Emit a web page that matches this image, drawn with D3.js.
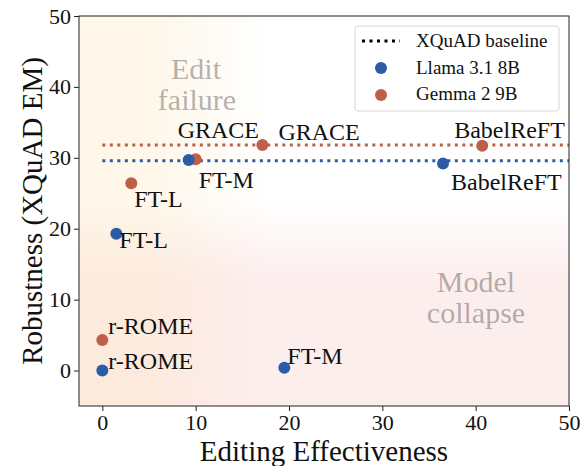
<!DOCTYPE html>
<html lang="en">
<head>
<meta charset="utf-8">
<title>Robustness vs Editing Effectiveness</title>
<script src="https://d3js.org/d3.v7.min.js"></script>
<style>
  body { margin: 0; background: #fff; }
  svg text { font-family: "Liberation Serif", "DejaVu Serif", serif; fill: #111; }
  .tick text { font-size: 22px; }
  .axis-title { font-size: 29px; }
  .point-label { font-size: 24px; }
  .legend-text { font-size: 19px; }
  .region { font-size: 30px; fill: #555; fill-opacity: 0.45; }
</style>
</head>
<body>
<div id="vis"></div>
<script>
// data
const methods = ["r-ROME", "FT-L", "FT-M", "GRACE", "BabelReFT"];
const llamaEff = [0, 1.5, 19.5, 9.25, 36.5];
const llamaRob = [0, 19.3, 0.4, 29.7, 29.2];
const gemmaEff = [0, 3.1, 10.0, 17.15, 40.7];
const gemmaRob = [4.3, 26.4, 29.8, 31.8, 31.7];
const llamaBaseline = 29.6;
const gemmaBaseline = 31.8;
const xTicks = [0, 10, 20, 30, 40, 50];
const yTicks = [0, 10, 20, 30, 40, 50];
const legendLabels = ["XQuAD baseline", "Llama 3.1 8B", "Gemma 2 9B"];

// label placement (pixels, relative to the point)
const llamaLabelOffsets = [[6, -2], [3, 14], [3, -4], [-11, -22], [8, 27]];
const gemmaLabelOffsets = [[6, -6], [3, 24], [3, 29], [16, -5], [-28, -8]];

const blue = "#2c5ca6";
const red = "#bd5f49";

const width = 587, height = 466;
const mLeft = 79, mRight = 569, mTop = 16, mBottom = 406;

const x = d3.scaleLinear().domain([-2.5, 50]).range([mLeft, mRight]);
const y = d3.scaleLinear().domain([-5, 50]).range([mBottom, mTop]);

const svg = d3.select("#vis").append("svg")
    .attr("width", width)
    .attr("height", height);

const defs = svg.append("defs");

// pink wash rising from the bottom ("model collapse")
const gv = defs.append("linearGradient").attr("id", "gv")
    .attr("gradientUnits", "userSpaceOnUse")
    .attr("x1", 0).attr("x2", 0)
    .attr("y1", y(-5)).attr("y2", y(50));
gv.append("stop").attr("offset", (13 + 5) / 55).attr("stop-color", "#fdeeee").attr("stop-opacity", 1);
gv.append("stop").attr("offset", (24 + 5) / 55).attr("stop-color", "#fdeeee").attr("stop-opacity", 0);

// cream wash from the left ("edit failure")
const gh = defs.append("linearGradient").attr("id", "gh")
    .attr("gradientUnits", "userSpaceOnUse")
    .attr("y1", 0).attr("y2", 0)
    .attr("x1", x(-2.5)).attr("x2", x(50));
gh.append("stop").attr("offset", (5 + 2.5) / 52.5).attr("stop-color", "rgb(251,222,167)").attr("stop-opacity", 0.24);
gh.append("stop").attr("offset", (18 + 2.5) / 52.5).attr("stop-color", "rgb(251,222,167)").attr("stop-opacity", 0);

svg.append("rect")
    .attr("x", mLeft).attr("y", mTop)
    .attr("width", mRight - mLeft).attr("height", mBottom - mTop)
    .attr("fill", "url(#gv)");
svg.append("rect")
    .attr("x", mLeft).attr("y", mTop)
    .attr("width", mRight - mLeft).attr("height", mBottom - mTop)
    .attr("fill", "url(#gh)");

// region notes
svg.append("text").attr("class", "region").attr("text-anchor", "middle")
    .attr("x", 196).attr("y", 79).text("Edit");
svg.append("text").attr("class", "region").attr("text-anchor", "middle")
    .attr("x", 197).attr("y", 110).text("failure");
svg.append("text").attr("class", "region").attr("text-anchor", "middle")
    .attr("x", 476).attr("y", 292).text("Model");
svg.append("text").attr("class", "region").attr("text-anchor", "middle")
    .attr("x", 476).attr("y", 323).text("collapse");

// baselines
svg.append("line")
    .attr("x1", x(0)).attr("x2", x(50))
    .attr("y1", y(gemmaBaseline)).attr("y2", y(gemmaBaseline))
    .attr("stroke", red).attr("stroke-width", 3)
    .attr("stroke-dasharray", "3,4.5");
svg.append("line")
    .attr("x1", x(0)).attr("x2", x(50))
    .attr("y1", y(llamaBaseline)).attr("y2", y(llamaBaseline))
    .attr("stroke", blue).attr("stroke-width", 3)
    .attr("stroke-dasharray", "3,4.5");

// points
const gemma = methods.map((m, i) => ({ m, ex: gemmaEff[i], rb: gemmaRob[i], off: gemmaLabelOffsets[i] }));
const llama = methods.map((m, i) => ({ m, ex: llamaEff[i], rb: llamaRob[i], off: llamaLabelOffsets[i] }));

svg.selectAll(".gemma").data(gemma).enter().append("circle")
    .attr("class", "gemma")
    .attr("cx", d => x(d.ex)).attr("cy", d => y(d.rb))
    .attr("r", 6).attr("fill", red);
svg.selectAll(".llama").data(llama).enter().append("circle")
    .attr("class", "llama")
    .attr("cx", d => x(d.ex)).attr("cy", d => y(d.rb))
    .attr("r", 6).attr("fill", blue);

svg.selectAll(".lab").data(gemma.concat(llama)).enter().append("text")
    .attr("class", "point-label")
    .attr("x", d => x(d.ex) + d.off[0])
    .attr("y", d => y(d.rb) + d.off[1])
    .text(d => d.m);

// axes
const xAxis = svg.append("g")
    .attr("transform", "translate(0," + mBottom + ")")
    .call(d3.axisBottom(x).tickValues(xTicks).tickSize(5));
xAxis.select(".domain").remove();
xAxis.selectAll(".tick text").attr("y", 24).attr("dy", 0);

const yAxis = svg.append("g")
    .attr("transform", "translate(" + mLeft + ",0)")
    .call(d3.axisLeft(y).tickValues(yTicks).tickSize(5));
yAxis.select(".domain").remove();
yAxis.selectAll(".tick text").attr("x", -8);

svg.selectAll(".tick line").attr("stroke", "#222");

svg.append("rect")
    .attr("x", mLeft).attr("y", mTop)
    .attr("width", mRight - mLeft).attr("height", mBottom - mTop)
    .attr("fill", "none").attr("stroke", "#222").attr("stroke-width", 1);

svg.append("text").attr("class", "axis-title")
    .attr("text-anchor", "middle")
    .attr("x", (mLeft + mRight) / 2).attr("y", 461)
    .text("Editing Effectiveness");

svg.append("text").attr("class", "axis-title")
    .attr("text-anchor", "middle")
    .attr("transform", "translate(42," + ((mTop + mBottom) / 2) + ") rotate(-90)")
    .text("Robustness (XQuAD EM)");

// legend
const lg = svg.append("g").attr("transform", "translate(355,26)");
lg.append("rect")
    .attr("width", 204).attr("height", 85).attr("rx", 3)
    .attr("fill", "#fff").attr("fill-opacity", 0.8)
    .attr("stroke", "#d6d6d6");
lg.append("line")
    .attr("x1", 7).attr("x2", 45).attr("y1", 15).attr("y2", 15)
    .attr("stroke", "#000").attr("stroke-width", 3)
    .attr("stroke-dasharray", "3,4.5");
lg.append("circle").attr("cx", 26).attr("cy", 42).attr("r", 6).attr("fill", blue);
lg.append("circle").attr("cx", 26).attr("cy", 69).attr("r", 6).attr("fill", red);
lg.selectAll(".legend-text").data(legendLabels).enter().append("text")
    .attr("class", "legend-text")
    .attr("x", 61)
    .attr("y", (d, i) => 21 + i * 26.5)
    .text(d => d);
</script>
</body>
</html>
